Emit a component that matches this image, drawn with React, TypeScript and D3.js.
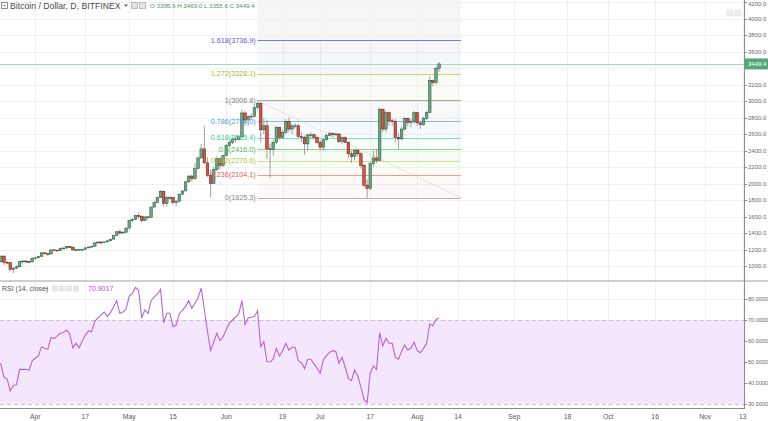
import React from 'react';
import * as d3 from 'd3';

const startDate = Date.UTC(2017, 2, 20);
const opens = [
  1045,1050,1120,1045,1040,960,975,990,1055,1060,1055,1050,
  1095,1100,1115,1160,1150,1145,1195,1192,1188,1215,1218,1235,1228,1195,1198,1200,1202,1220,1230,1240,1280,1290,1285,1292,1305,1325,1370,1415,1400,1410,
  1460,1550,1565,1610,1600,1550,1595,1590,1715,1770,1830,1905,1760,1830,1830,1770,1785,1870,1910,2020,2090,2060,2180,2310,2420,2250,2100,2000,2170,2300,2220,
  2340,2460,2500,2540,2530,2565,2855,2770,2810,2815,2920,2970,2650,2700,2420,2410,2500,2680,2560,2620,2750,2660,2700,2700,2570,2560,2480,2590,2590,2560,
  2500,2440,2530,2580,2605,2600,2600,2510,2555,2500,2360,2330,2400,2360,2220,1980,1940,2240,2310,2280,2900,2660,2860,2760,2755,2560,2540,2660,2790,2740,2755,
  2860,2735,2715,2790,2860,3250,3225,3395.9,
];
const highs = [
  1060,1125,1130,1060,1045,985,1010,1060,1070,1070,1065,1100,
  1110,1125,1165,1170,1160,1200,1205,1200,1225,1225,1240,1240,1235,1205,1205,1210,1225,1235,1245,1285,1300,1300,1300,1310,1330,1375,1420,1440,1420,1465,
  1560,1580,1620,1650,1615,1600,1610,1720,1790,1840,1920,1915,1850,1850,1835,1800,1880,1920,2030,2100,2110,2250,2330,2480,2700,2320,2170,2200,2330,2320,2350,
  2480,2520,2560,2570,2580,2900,2880,2830,2850,2950,3006.8,2990,2790,2770,2480,2530,2700,2690,2650,2780,2800,2720,2730,2720,2620,2580,2600,2620,2610,2570,
  2530,2540,2600,2630,2620,2620,2610,2570,2570,2510,2400,2420,2420,2380,2240,2050,2260,2400,2420,2920,2910,2880,2870,2790,2780,2610,2690,2810,2800,2780,2880,
  2870,2760,2810,2880,3300,3260,3420,3469.0,
];
const lows = [
  1030,1045,1010,1025,935,915,960,985,1030,1030,1035,1045,
  1080,1090,1110,1140,1125,1140,1180,1175,1180,1200,1210,1220,1180,1180,1185,1190,1195,1215,1220,1235,1270,1260,1275,1285,1300,1320,1365,1380,1390,1400,
  1450,1530,1555,1570,1530,1545,1560,1585,1705,1760,1825,1720,1720,1800,1740,1720,1770,1860,1905,2010,2020,2040,2170,2300,2240,2080,1830,1990,2150,2170,2200,
  2330,2440,2480,2500,2520,2560,2700,2700,2780,2800,2900,2500,2600,2300,2070,2340,2480,2530,2540,2600,2620,2600,2670,2550,2500,2350,2400,2540,2530,2480,
  2400,2400,2520,2570,2560,2575,2490,2480,2490,2310,2250,2280,2330,2180,1960,1825.3,1920,2200,2250,2270,2620,2620,2700,2700,2500,2420,2530,2640,2690,2680,2720,
  2700,2660,2700,2770,2850,3180,3200,3355.6,
];
const closes = [
  1050,1120,1045,1040,960,975,990,1055,1060,1055,1050,1095,
  1100,1115,1160,1150,1145,1195,1192,1188,1215,1218,1235,1228,1195,1198,1200,1202,1220,1230,1240,1280,1290,1285,1292,1305,1325,1370,1415,1400,1410,1460,
  1550,1565,1610,1600,1550,1595,1590,1715,1770,1830,1905,1760,1830,1830,1770,1785,1870,1910,2020,2090,2060,2180,2310,2420,2250,2100,2000,2170,2300,2220,2340,
  2460,2500,2540,2530,2565,2855,2770,2810,2815,2920,2970,2650,2700,2420,2410,2500,2680,2560,2620,2750,2660,2700,2700,2570,2560,2480,2590,2590,2560,2500,
  2440,2530,2580,2605,2600,2600,2510,2555,2500,2360,2330,2400,2360,2220,1980,1940,2240,2310,2280,2900,2660,2860,2760,2755,2560,2540,2660,2790,2740,2755,2860,
  2735,2715,2790,2860,3250,3225,3396,3449.4,
];
const rsiValues = [
  50,49,42.7,42,36.3,38.9,39.2,46.5,46.5,46.5,46,50.6,
  51.8,52.9,57.3,56.5,56,61.7,61.1,62.4,63.7,64,65.2,63.3,56.7,58.9,56.7,60,62.8,64.9,64.4,69.4,71,72.4,73.8,71.6,73.5,76.3,79.2,73.2,73.8,75.1,
  81.4,82.7,85.5,84.3,71,74.8,73.2,79.2,81,82.4,84.6,68.7,73.2,73.2,66.8,67.6,73,74.6,76.5,79.2,75.6,78,80.5,85.2,75,64.5,55.4,59.5,63.7,60.1,62,
  65.5,68.5,70,71.3,73,79.2,67.8,71,71.3,71.8,74.4,57.3,59.7,50.1,50,51.3,56.5,52.9,55.4,58.9,55.7,57,57,50.6,49.7,46.8,51.3,51.3,49.2,47,
  44.6,51,53,54.6,55.4,55,49.4,52.2,47.5,42.2,41.1,46.2,43.3,38.2,32.2,30.6,44.9,48.1,46.5,64,57.6,61.3,58.9,58.9,52.2,51.3,55,58,55.7,56.5,59.5,
  55.4,54.4,56.5,58.9,68.1,67.3,70.3,70.9,
];

const priceTicks = [1000,1200,1400,1600,1800,2000,2200,2400,2600,2800,3000,3200,3400,3600,3800,4000,4200];
const hiddenPriceTicks = [3400];
const rsiTicks = [30,40,50,60,70,80];
const dateTickDates = ['2017-04-01','2017-04-17','2017-05-01','2017-05-15','2017-06-01','2017-06-19','2017-07-01','2017-07-17','2017-08-01','2017-08-14','2017-09-01','2017-09-18','2017-10-01','2017-10-16','2017-11-01','2017-11-13'];
const dateTickLabels = ['Apr','17','May','15','Jun','19','Jul','17','Aug','14','Sep','18','Oct','16','Nov','13'];

const fibRatios = ['0','0.236','0.382','0.5','0.618','0.786','1','1.272','1.618'];
const fibPrices = [1825.3,2104.1,2276.6,2416.0,2555.4,2754.0,3006.8,3328.1,3736.9];
const fibLineColors = ['#b5b5b5','#ec9a9a','#cde488','#8ed485','#7fe0c0','#7fbde6','#a8a8a8','#bedd6e','#7b7be6'];
const fibTextColors = ['#8a8a8a','#e25a5a','#a8c93c','#55b64f','#38c79c','#3f9bd8','#7d7d7d','#98bf30','#5a5ad8'];
const fibDates = ['2017-06-11','2017-08-15'];

const lastPrice = 3449.4;
const headerTitle = 'Bitcoin / Dollar, D, BITFINEX';
const headerOHLC = 'O 3395.9 H 3469.0 L 3355.6 C 3449.4';
const rsiTitle = 'RSI (14, close)';
const rsiLast = '70.9017';

const W = 768;
const H = 421;
const AXIS_X = 744;
const FONT = 'Liberation Sans, Arial, sans-serif';

export default function App() {
  const parse = (s: string) => new Date(s + 'T00:00:00Z');
  const x = d3.scaleUtc().domain([parse('2017-04-01'), parse('2017-11-13')]).range([35.3, 742.8]);
  const y = d3.scaleLinear().domain([1000, 4200]).range([266, 2]);
  const yr = d3.scaleLinear().domain([30, 80]).range([404, 299]);
  const dayDate = (i: number) => new Date(startDate + i * 86400000);

  const candles = closes.map((c, i) => ({ x: x(dayDate(i)), o: opens[i], h: highs[i], l: lows[i], c }));
  const rsiLine = d3.line<number>().x((_, i) => x(dayDate(i))).y((v) => yr(v));
  const fx0 = x(parse(fibDates[0]));
  const fx1 = x(parse(fibDates[1]));
  const bodyW = 2.6;

  return (
    <svg width={W} height={H} style={{ position: 'absolute', left: 0, top: 0, background: '#fff' }} fontFamily={FONT}>
      <defs>
        <clipPath id="mainClip"><rect x={0} y={0} width={AXIS_X} height={280} /></clipPath>
        <clipPath id="rsiClip"><rect x={0} y={282} width={AXIS_X} height={126} /></clipPath>
      </defs>
      <rect x={0} y={0} width={W} height={H} fill="#fff" />
      {/* grid */}
      {priceTicks.map((t) => (
        <line key={'pg' + t} x1={0} x2={AXIS_X} y1={Math.round(y(t)) + 0.5} y2={Math.round(y(t)) + 0.5} stroke="#f0f0f0" />
      ))}
      {[40, 50, 60, 80].map((t) => (
        <line key={'rg' + t} x1={0} x2={AXIS_X} y1={Math.round(yr(t)) + 0.5} y2={Math.round(yr(t)) + 0.5} stroke="#f0f0f0" />
      ))}
      {dateTickDates.map((d) => (
        <line key={'vg' + d} x1={Math.round(x(parse(d))) + 0.5} x2={Math.round(x(parse(d))) + 0.5} y1={0} y2={408} stroke="#f0f0f0" />
      ))}

      {/* fib fills */}
      <g clipPath="url(#mainClip)">
        <rect x={fx0} y={0} width={fx1 - fx0} height={y(fibPrices[8])} fill="#f2f2f2" opacity={0.7} />
        {fibPrices.slice(0, -1).map((p, i) => (
          <rect key={'ff' + i} x={fx0} y={y(fibPrices[i + 1])} width={fx1 - fx0} height={y(p) - y(fibPrices[i + 1])} fill={fibLineColors[i + 1]} opacity={0.07} />
        ))}
        <line x1={fx0} y1={y(fibPrices[6])} x2={fx1} y2={y(fibPrices[0])} stroke="#d8d8d8" strokeWidth={1} strokeDasharray="2,1" />
        {fibPrices.map((p, i) => (
          <line key={'fl' + i} x1={fx0} x2={fx1} y1={Math.round(y(p)) + 0.5} y2={Math.round(y(p)) + 0.5} stroke={fibLineColors[i]} strokeWidth={1.2} />
        ))}
        <line x1={0} x2={AXIS_X} y1={Math.round(y(lastPrice)) + 0.5} y2={Math.round(y(lastPrice)) + 0.5} stroke="#a9d8b8" strokeWidth={1} />
        {candles.map((d, i) => {
          const up = d.c >= d.o;
          const top = y(Math.max(d.o, d.c));
          const bot = y(Math.min(d.o, d.c));
          return (
            <g key={'c' + i}>
              <line x1={d.x} x2={d.x} y1={y(d.h)} y2={y(d.l)} stroke="#8a8a8a" strokeWidth={0.8} />
              <rect x={d.x - bodyW / 2} y={top} width={bodyW} height={Math.max(0.8, bot - top)} fill={up ? '#6ba583' : '#d75442'} stroke={up ? '#225437' : '#5b1a13'} strokeWidth={0.5} />
            </g>
          );
        })}
      </g>
      {fibPrices.map((p, i) => (
        <text key={'ft' + i} x={fx0 - 2} y={y(p) + 2.5} fontSize={7.2} textAnchor="end" fill={fibTextColors[i]}>
          {fibRatios[i]}({p.toFixed(1)})
        </text>
      ))}

      {/* RSI pane */}
      <g clipPath="url(#rsiClip)">
        <rect x={0} y={yr(70)} width={AXIS_X} height={yr(30) - yr(70)} fill="#f4e6fd" />
        <line x1={0} x2={AXIS_X} y1={Math.round(yr(70)) + 0.5} y2={Math.round(yr(70)) + 0.5} stroke="#c4c4c4" strokeDasharray="4,3" />
        <line x1={0} x2={AXIS_X} y1={Math.round(yr(30)) + 0.5} y2={Math.round(yr(30)) + 0.5} stroke="#c4c4c4" strokeDasharray="4,3" />
        <path d={rsiLine(rsiValues) || ''} fill="none" stroke="#b564d6" strokeWidth={1.1} />
      </g>

      {/* separators and axes */}
      <line x1={0} x2={W} y1={281} y2={281} stroke="#cfcfcf" strokeWidth={2} />
      <line x1={AXIS_X + 0.5} x2={AXIS_X + 0.5} y1={0} y2={409} stroke="#8c8c8c" />
      <line x1={0} x2={AXIS_X} y1={408.5} y2={408.5} stroke="#8c8c8c" />

      {priceTicks.map((t) => (
        <g key={'pt' + t}>
          <line x1={AXIS_X} x2={AXIS_X + 3} y1={Math.round(y(t)) + 0.5} y2={Math.round(y(t)) + 0.5} stroke="#8c8c8c" />
          {hiddenPriceTicks.includes(t) ? null : (
            <text x={AXIS_X + 4} y={Math.max(y(t) + 2.2, 5.5)} fontSize={6} fill="#6a6a6a">{t.toFixed(1)}</text>
          )}
        </g>
      ))}
      {rsiTicks.map((t) => (
        <g key={'rt' + t}>
          <line x1={AXIS_X} x2={AXIS_X + 3} y1={Math.round(yr(t)) + 0.5} y2={Math.round(yr(t)) + 0.5} stroke="#8c8c8c" />
          <text x={AXIS_X + 4} y={yr(t) + 2.2} fontSize={5.6} fill="#6a6a6a">{t.toFixed(4)}</text>
        </g>
      ))}
      {dateTickDates.map((d, i) => (
        <text key={'dt' + d} x={x(parse(d))} y={418.5} fontSize={6.8} textAnchor="middle" fill="#5a5a5a">{dateTickLabels[i]}</text>
      ))}

      {/* last price tag */}
      <rect x={AXIS_X + 1} y={y(lastPrice) - 5.5} width={W - AXIS_X - 1} height={11} fill="#53a877" />
      <text x={AXIS_X + 4} y={y(lastPrice) + 2.2} fontSize={6} fill="#fff">{lastPrice.toFixed(1)}</text>

      {/* top-right icons */}
      <rect x={727} y={10} width={6} height={6} fill="#ededed" stroke="#e0e0e0" strokeWidth={0.5} />
      <rect x={735} y={10} width={6} height={6} fill="#ededed" stroke="#e0e0e0" strokeWidth={0.5} />

      {/* header */}
      <rect x={1.5} y={2.5} width={6} height={6} fill="none" stroke="#777" strokeWidth={0.8} />
      <line x1={3} x2={6} y1={5.5} y2={5.5} stroke="#777" strokeWidth={0.8} />
      <text x={10} y={8.8} fontSize={8.7} fill="#4a4a4a">{headerTitle}</text>
      <path d="M124,4.5 L128,4.5 L126,7 Z" fill="#666" />
      <rect x={131.5} y={2.5} width={6} height={6} fill="#e4e4e4" stroke="#999" strokeWidth={0.6} />
      <rect x={139.5} y={2.5} width={6} height={6} fill="#e4e4e4" stroke="#999" strokeWidth={0.6} />
      <text x={150} y={8} fontSize={6.2} fill="#3f9a69">{headerOHLC}</text>

      {/* RSI header */}
      <text x={2} y={291} fontSize={7} fill="#555">{rsiTitle}</text>
      <path d="M45,288 L48,288 L46.5,290 Z" fill="#888" />
      {[52, 59, 66, 73].map((xx) => (
        <rect key={'ri' + xx} x={xx} y={285.5} width={6} height={6} fill="#e6e6e6" />
      ))}
      <text x={88} y={291} fontSize={7} fill="#a052c8">{rsiLast}</text>
    </svg>
  );
}
